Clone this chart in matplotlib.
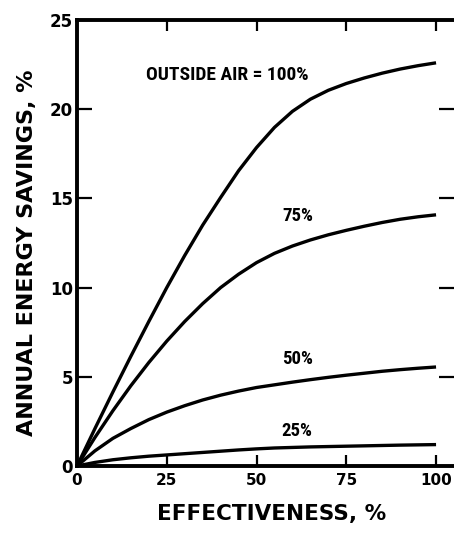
import matplotlib
matplotlib.use("Agg")
import matplotlib.pyplot as plt

# Data
effectiveness = [0, 5, 10, 15, 20, 25, 30, 35, 40, 45, 50, 55, 60, 65, 70, 75, 80, 85, 90, 95, 100]
oa_100 = [0, 2.1, 4.15, 6.15, 8.1, 10.0, 11.8, 13.5, 15.05, 16.55, 17.85, 18.98, 19.88, 20.56, 21.06, 21.44, 21.75, 22.02, 22.25, 22.44, 22.6]
oa_75 = [0, 1.6, 3.1, 4.5, 5.8, 7.0, 8.1, 9.1, 10.0, 10.75, 11.4, 11.92, 12.33, 12.67, 12.96, 13.21, 13.44, 13.65, 13.83, 13.97, 14.08]
oa_50 = [0, 0.85, 1.55, 2.1, 2.6, 3.02, 3.38, 3.7, 3.97, 4.2, 4.4, 4.55, 4.7, 4.84, 4.97, 5.09, 5.2, 5.31, 5.4, 5.48, 5.55]
oa_25 = [0, 0.2, 0.35, 0.46, 0.55, 0.62, 0.69, 0.76, 0.83, 0.9, 0.96, 1.01, 1.04, 1.07, 1.09, 1.11, 1.13, 1.15, 1.17, 1.185, 1.2]

series = [oa_100, oa_75, oa_50, oa_25]
labels = ["OUTSIDE AIR = 100%", "75%", "50%", "25%"]
label_pos = [(41.8, 21.9), (61.5, 14.0), (61.5, 6.0), (61.3, 1.95)]

xticks = [0, 25, 50, 75, 100]
yticks = [0, 5, 10, 15, 20, 25]

fig = plt.figure(figsize=(4.54, 5.33), dpi=100)
ax = fig.add_axes([77 / 454, 67 / 533, 377 / 454, 446 / 533])

for ys in series:
    ax.plot(effectiveness, ys, color="black", lw=2.4,
            solid_capstyle="butt", solid_joinstyle="round")

narrow = ["Liberation Sans Narrow", "Roboto Condensed", "DejaVu Sans"]
for txt, (x, y) in zip(labels, label_pos):
    ax.text(x, y, txt, ha="center", va="center", fontsize=14 if len(txt) > 4 else 13.5,
            family=narrow, fontweight="bold", color="black")

ax.set_xlim(0, 105)
ax.set_ylim(0, 25)

ax.set_xticks(xticks)
ax.set_xticklabels([str(v) for v in xticks], fontsize=11, fontweight="bold")
ax.set_yticks(yticks)
ax.set_yticklabels([str(v) for v in yticks], fontsize=12, fontweight="bold")

ax.tick_params(axis="x", direction="in", length=8, width=1.6, top=True, bottom=True, pad=5)
ax.tick_params(axis="y", direction="in", length=11, width=1.6, left=True, right=True, pad=3)

for side in ["left", "bottom", "top"]:
    ax.spines[side].set_linewidth(2.8)
ax.spines["right"].set_visible(False)

ax.set_xlabel("EFFECTIVENESS, %", fontsize=15.5, fontweight="bold")
ax.xaxis.set_label_coords(0.515, -0.086)
ax.set_ylabel("ANNUAL ENERGY SAVINGS, %", fontsize=16, fontweight="bold")
ax.yaxis.set_label_coords(-0.107, 0.478)

fig.savefig("out.png", dpi=100)
